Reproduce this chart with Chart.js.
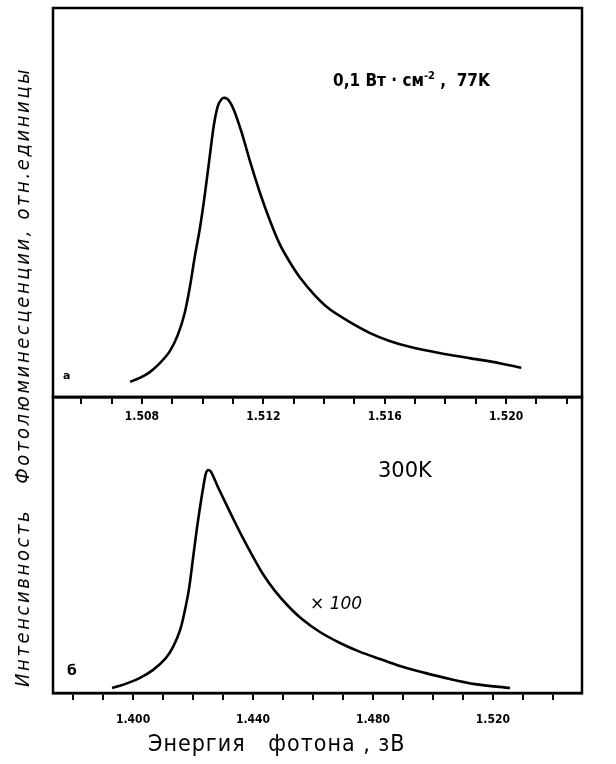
<!DOCTYPE html>
<html lang="ru">
<head>
<meta charset="UTF-8" />
<title>Фотолюминесценция</title>
<script src="https://cdn.jsdelivr.net/npm/chart.js"></script>
<style>
  body { margin: 0; background: #fff; }
  #wrap { position: relative; width: 616px; height: 764px; overflow: hidden; }
  canvas { position: absolute; left: 0; }
  .txt { position: absolute; color: #000; white-space: pre; line-height: 1; }
  #ytitle {
    left: 22px; top: 377px;
    transform: translate(-50%, -50%) rotate(-90deg);
    font: italic 20px "DejaVu Sans Condensed", "DejaVu Sans", sans-serif;
    letter-spacing: 2.6px;
  }
  #xtitle { left: 148px; top: 730px; font: 23px "DejaVu Sans Condensed", sans-serif; letter-spacing: 1px; }
  #note77 { left: 333px; top: 69px; font: bold 17px "DejaVu Sans Condensed", sans-serif; }
  #note77 sup { font-size: 11px; }
  #note300 { left: 378px; top: 458px; font: 21px "DejaVu Sans", sans-serif; }
  #noteX { left: 310px; top: 593px; font: italic 17px "DejaVu Sans", sans-serif; }
  #labA { left: 63px; top: 369px; font: bold 11px "DejaVu Sans", sans-serif; }
  #labB { left: 67px; top: 662px; font: bold 14px "DejaVu Sans", sans-serif; }
</style>
</head>
<body>
<div id="wrap">
  <canvas id="topChart" width="616" height="440" style="top:0"></canvas>
  <canvas id="bottomChart" width="616" height="384" style="top:380px"></canvas>

  <div class="txt" id="ytitle">Интенсивность   Фотолюминесценции, отн.единицы</div>
  <div class="txt" id="xtitle">Энергия   фотона , зВ</div>
  <div class="txt" id="note77">0,1 Вт · см<sup>-2</sup> ,  77K</div>
  <div class="txt" id="note300">300K</div>
  <div class="txt" id="noteX">× 100</div>
  <div class="txt" id="labA">а</div>
  <div class="txt" id="labB">б</div>
</div>

<script>
  // panel a: 77 K
  const topEnergy = [1.50761, 1.50793, 1.50826, 1.50859, 1.50892, 1.50918, 1.50941, 1.50958,
    1.50974, 1.50991, 1.51007, 1.51024, 1.51037, 1.51050, 1.51063, 1.51073, 1.51086,
    1.51103, 1.51129, 1.51155, 1.51188, 1.51221, 1.51254, 1.51287, 1.51320, 1.51369,
    1.51418, 1.51484, 1.51550, 1.51616, 1.51682, 1.51780, 1.51879, 1.51978, 1.52050];
  const topIntensity = [3.9, 4.9, 6.4, 8.7, 11.8, 15.9, 21.6, 28.3,
    36.0, 43.4, 51.9, 62.2, 69.9, 74.8, 76.6, 76.9, 76.3,
    73.8, 67.9, 60.9, 52.7, 45.5, 39.3, 34.7, 30.8, 26.2,
    22.6, 19.3, 16.5, 14.4, 12.9, 11.3, 10.0, 8.7, 7.5];
  const topTicks = [1.506, 1.507, 1.508, 1.509, 1.510, 1.511, 1.512, 1.513, 1.514,
    1.515, 1.516, 1.517, 1.518, 1.519, 1.520, 1.521, 1.522];
  const topTickLabels = ['1.508', '1.512', '1.516', '1.520'];

  // panel б: 300 K (x100)
  const bottomEnergy = [1.3930, 1.3973, 1.4023, 1.4067, 1.4107, 1.4133, 1.4157, 1.4173,
    1.4187, 1.4200, 1.4213, 1.4227, 1.4237, 1.4243, 1.4250, 1.4260, 1.4283,
    1.4307, 1.4333, 1.4363, 1.4397, 1.4433, 1.4473, 1.4517, 1.4563, 1.4623,
    1.4690, 1.4757, 1.4823, 1.4890, 1.4973, 1.5057, 1.5140, 1.5257];
  const bottomIntensity = [1.7, 3.0, 5.1, 7.8, 11.5, 15.5, 21.3, 28.0,
    35.5, 45.6, 55.7, 65.2, 71.3, 74.3, 75.3, 74.7, 69.6,
    64.5, 59.1, 53.0, 46.6, 40.2, 34.5, 29.4, 25.0, 20.6,
    16.9, 13.9, 11.5, 9.1, 6.8, 4.7, 3.0, 1.7];
  const bottomTicks = [1.38, 1.39, 1.40, 1.41, 1.42, 1.43, 1.44, 1.45, 1.46, 1.47,
    1.48, 1.49, 1.50, 1.51, 1.52, 1.53, 1.54];
  const bottomTickLabels = ['1.400', '1.440', '1.480', '1.520'];

  // frame round the plot area
  const framePlugin = {
    id: 'frame',
    afterDraw(chart) {
      const a = chart.chartArea, ctx = chart.ctx;
      ctx.save();
      ctx.strokeStyle = '#000';
      ctx.lineWidth = 2.5;
      ctx.strokeRect(a.left, a.top, a.right - a.left, a.bottom - a.top);
      ctx.restore();
    }
  };

  function makeChart(id, energy, intensity, ticks, labels, xMin, xMax, padTop, axisHeight, labelPad) {
    return new Chart(document.getElementById(id), {
      type: 'line',
      data: {
        datasets: [{
          data: energy.map((e, i) => ({ x: e, y: intensity[i] })),
          borderColor: '#000',
          borderWidth: 2.6,
          pointRadius: 0,
          tension: 0.3,
          fill: false
        }]
      },
      options: {
        responsive: false,
        animation: false,
        layout: { autoPadding: false, padding: { left: 53, right: 34, top: padTop, bottom: 0 } },
        plugins: { legend: { display: false }, tooltip: { enabled: false } },
        scales: {
          x: {
            type: 'linear',
            min: xMin,
            max: xMax,
            afterBuildTicks: s => { s.ticks = ticks.map(v => ({ value: v })); },
            afterFit: s => { s.height = axisHeight; },
            grid: { drawOnChartArea: false, color: '#000', lineWidth: 2, tickLength: 7 },
            border: { display: true, color: '#000', width: 2.5 },
            ticks: {
              padding: labelPad,
              maxRotation: 0,
              autoSkip: false,
              color: '#000',
              font: { family: 'DejaVu Sans Condensed', size: 12, weight: 'bold' },
              callback: v => {
                const t = Number(v).toFixed(3);
                return labels.includes(t) ? t : '';
              }
            }
          },
          y: { display: false, min: 0, max: 100 }
        }
      },
      plugins: [framePlugin]
    });
  }

  makeChart('topChart', topEnergy, topIntensity, topTicks, topTickLabels, 1.50507, 1.5225, 8, 43, 6);
  makeChart('bottomChart', bottomEnergy, bottomIntensity, bottomTicks, bottomTickLabels, 1.3733, 1.5497, 17, 71, 13);
</script>
</body>
</html>
